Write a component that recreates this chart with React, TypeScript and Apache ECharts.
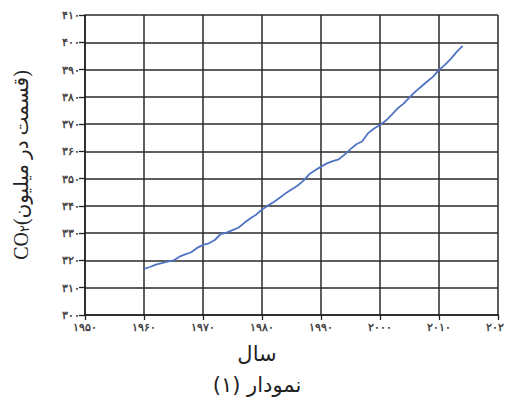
import React, { useEffect, useRef } from "react";
import * as echarts from "echarts";

const years: number[] = [];
for (let y = 1960; y <= 2014; y++) years.push(y);
const co2 = [
  316.9, 317.6, 318.5, 319.0, 319.6, 320.0, 321.4, 322.2, 323.0, 324.6,
  325.7, 326.3, 327.5, 329.7, 330.2, 331.1, 332.0, 333.8, 335.4, 336.8,
  338.7, 340.1, 341.4, 343.0, 344.6, 346.0, 347.4, 349.2, 351.6, 353.1,
  354.4, 355.6, 356.4, 357.1, 358.8, 360.8, 362.6, 363.7, 366.7, 368.4,
  369.7, 371.3, 373.5, 375.8, 377.5, 379.8, 381.9, 383.8, 385.6, 387.4,
  389.9, 391.7, 393.9, 396.5, 398.7,
];
const persianDigits = "۰۱۲۳۴۵۶۷۸۹";
const toFa = (n: number) => String(n).replace(/[0-9]/g, (d) => persianDigits[+d]);

const yTitle = "(قسمت در میلیون)";
const xTitle = "سال";
const caption = "نمودار (۱)";

export default function App() {
  const ref = useRef<HTMLDivElement>(null);
  useEffect(() => {
    if (!ref.current) return;
    const chart = echarts.init(ref.current, undefined, { renderer: "svg" });
    chart.setOption({
      animation: false,
      backgroundColor: "#ffffff",
      grid: { left: 85, right: 16, top: 15, bottom: 101 },
      xAxis: {
        type: "value",
        min: 1950,
        max: 2020,
        interval: 10,
        axisLine: { lineStyle: { color: "#222", width: 1.5 } },
        axisTick: { show: true, length: 5, lineStyle: { color: "#222", width: 1.3 } },
        axisLabel: {
          formatter: (v: number) => toFa(v),
          fontSize: 11,
          fontWeight: "bold",
          color: "#444",
          margin: 6,
        },
        splitLine: { show: true, lineStyle: { color: "#2a2a2a", width: 1.5 } },
      },
      yAxis: {
        type: "value",
        min: 300,
        max: 410,
        interval: 10,
        name: "{a|CO}{b|۲}{a|" + yTitle + "}",
        nameLocation: "middle",
        nameGap: 54,
        nameTextStyle: {
          rich: {
            a: { fontSize: 20, color: "#222", fontFamily: "Liberation Serif, DejaVu Sans" },
            b: { fontSize: 13, color: "#222", fontFamily: "DejaVu Sans", verticalAlign: "bottom", padding: [8, 0, 0, 0] },
          },
        },
        axisLine: { show: true, lineStyle: { color: "#222", width: 1.5 } },
        axisTick: { show: true, length: 6, lineStyle: { color: "#222", width: 1.3 } },
        axisLabel: {
          formatter: (v: number) => toFa(v),
          fontSize: 11,
          fontWeight: "bold",
          color: "#444",
          margin: 5,
        },
        splitLine: { show: true, lineStyle: { color: "#2a2a2a", width: 1.5 } },
      },
      graphic: [
        {
          type: "text",
          left: "center",
          top: 343,
          style: { text: xTitle, fontSize: 21, fill: "#222", fontFamily: "DejaVu Sans" },
        },
        {
          type: "text",
          left: "center",
          top: 374,
          style: { text: caption, fontSize: 21, fill: "#222", fontFamily: "DejaVu Sans" },
        },
      ],
      series: [
        {
          type: "line",
          data: years.map((y, i) => [y, co2[i]]),
          showSymbol: false,
          lineStyle: { color: "#4f74c4", width: 1.8 },
        },
      ],
    });
    return () => chart.dispose();
  }, []);
  return <div ref={ref} style={{ width: 514, height: 416, margin: -8 }} />;
}
